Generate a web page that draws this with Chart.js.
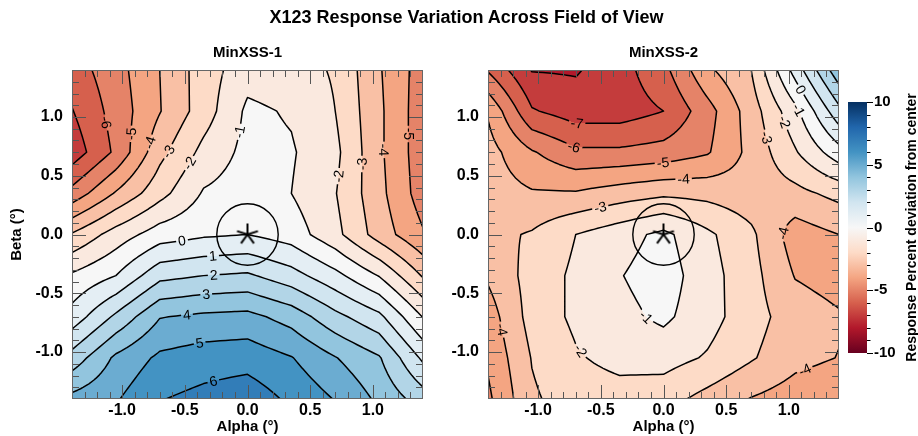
<!DOCTYPE html>
<html>
<head>
<meta charset="utf-8">
<title>X123 Response Variation Across Field of View</title>
<script src="https://cdn.jsdelivr.net/npm/chart.js@4.4.1/dist/chart.umd.min.js"></script>
<style>
  html, body { margin: 0; padding: 0; background: #fff; }
  body { position: relative; width: 918px; height: 436px; overflow: hidden; font-family: "Liberation Sans", Arial, Helvetica, sans-serif; }
  canvas { position: absolute; top: 0; }
  #titulo { position: absolute; left: 0; top: 7px; width: 933px; line-height: 20px; text-align: center; font-size: 18px; font-weight: bold; color: #000; }
</style>
</head>
<body>
<canvas id="panel1" width="440" height="436" style="left:0"></canvas>
<canvas id="panel2" width="405" height="436" style="left:440px"></canvas>
<canvas id="colorbar" width="73" height="436" style="left:845px"></canvas>
<div id="titulo">X123 Response Variation Across Field of View</div>
<script>
const FONT = '"Liberation Sans", Arial, Helvetica, sans-serif';
Chart.defaults.font.family = FONT;
Chart.defaults.color = '#000';

const alphaGrid = [-1.4, -1.05, -0.7, -0.35, 0, 0.35, 0.7, 1.05, 1.4];
const betaGrid = [1.4, 1.05, 0.7, 0.35, 0, -0.35, -0.7, -1.05, -1.4];

// response % deviation, rows = beta (top to bottom), cols = alpha
const minxss1 = [
  [-6.5, -5.4, -4.0, -2.5, -1.4, -1.6, -2.1, -3.9, -5.5],
  [-7.05, -5.6, -4.05, -2.5, -0.8, -1.1, -2.0, -3.8, -5.6],
  [-7.6, -5.8, -3.3, -1.7, -0.7, -0.9, -1.75, -3.8, -5.6],
  [-5.65, -3.9, -2.35, -0.9, -0.5, -1.0, -1.95, -3.7, -5.5],
  [-2.9, -1.55, -0.5, -0.15, 0.0, -0.47, -1.7, -3.45, -4.9],
  [-0.85, 0.0, 1.7, 2.0, 2.15, 1.4, 0.3, -1.05, -3.1],
  [0.4, 2.2, 3.95, 4.2, 4.3, 3.6, 2.3, 1.25, -1.05],
  [2.4, 4.2, 5.2, 5.5, 5.6, 5.05, 4.05, 3.1, 0.8],
  [4.3, 4.9, 5.95, 6.3, 6.6, 5.8, 4.95, 3.8, 2.5]
];
const minxss2 = [
  [-6.1, -8.05, -8.1, -7.4, -6.3, -4.2, -3.0, 0.4, 3.7],
  [-4.1, -6.9, -7.5, -7.5, -7.0, -5.4, -3.5, -1.3, 1.7],
  [-3.6, -4.9, -5.8, -5.8, -5.6, -5.1, -3.7, -2.1, -0.4],
  [-3.5, -3.9, -3.9, -3.5, -3.2, -3.3, -3.6, -3.3, -2.7],
  [-3.3, -2.9, -2.0, -1.4, -0.75, -1.8, -2.8, -4.5, -4.0],
  [-3.85, -2.6, -1.8, -1.05, -0.5, -1.6, -2.65, -4.05, -4.4],
  [-4.5, -2.6, -1.8, -1.3, -0.8, -1.6, -2.6, -3.5, -3.9],
  [-4.85, -2.95, -2.1, -1.7, -1.6, -2.1, -2.9, -3.7, -4.03],
  [-5.2, -3.15, -2.5, -2.4, -2.6, -3.35, -4.05, -4.5, -4.8]
];

const tickValues = [-1.0, -0.5, 0.0, 0.5, 1.0];
const contourLevels = [-9, -8, -7, -6, -5, -4, -3, -2, -1, 0, 1, 2, 3, 4, 5, 6, 7, 8, 9];
const colorbarTicks = [-10, -5, 0, 5, 10];
const fovRadius = 0.245;

// RdBu, -10 (red) to +10 (blue)
const rdbu = ['#67001f', '#b2182b', '#d6604d', '#f4a582', '#fddbc7', '#f7f7f7',
              '#d1e5f0', '#92c5de', '#4393c3', '#2166ac', '#053061'];
const rdbuRgb = rdbu.map(h => [1, 3, 5].map(k => parseInt(h.substr(k, 2), 16)));

function cmap(v) {
  let t = Math.max(0, Math.min(10, (v + 10) / 2));
  const k = Math.min(9, Math.floor(t)), f = t - k;
  return rdbuRgb[k].map((c, n) => Math.round(c + f * (rdbuRgb[k + 1][n] - c)));
}
const bandCache = {};
function bandColour(v) {
  const top = Math.ceil(v);
  if (!bandCache[top]) bandCache[top] = cmap(top);
  return bandCache[top];
}

function locate(axis, v) {
  const n = axis.length;
  for (let k = 0; k < n - 1; k++) {
    const a = axis[k], b = axis[k + 1];
    if (v >= Math.min(a, b) && v <= Math.max(a, b)) return [k, (v - a) / (b - a)];
  }
  const asc = axis[n - 1] > axis[0];
  if ((asc && v < axis[0]) || (!asc && v > axis[0])) return [0, 0];
  return [n - 2, 1];
}
function bilinear(grid, ia, ib) {
  const [i, u] = ia, [j, w] = ib;
  return grid[j][i] * (1 - u) * (1 - w) + grid[j][i + 1] * u * (1 - w) +
         grid[j + 1][i] * (1 - u) * w + grid[j + 1][i + 1] * u * w;
}

// marching squares, returns polylines of edge keys
function traceLevel(vals, level) {
  const nr = vals.length, nc = vals[0].length;
  const adj = new Map();
  const link = (a, b) => {
    if (!adj.has(a)) adj.set(a, []);
    if (!adj.has(b)) adj.set(b, []);
    adj.get(a).push(b); adj.get(b).push(a);
  };
  for (let j = 0; j < nr - 1; j++) {
    for (let i = 0; i < nc - 1; i++) {
      const tl = vals[j][i], tr = vals[j][i + 1], br = vals[j + 1][i + 1], bl = vals[j + 1][i];
      const A = tl > level, B = tr > level, C = br > level, D = bl > level;
      const T = 'h' + i + ',' + j, R = 'v' + (i + 1) + ',' + j;
      const Bo = 'h' + i + ',' + (j + 1), L = 'v' + i + ',' + j;
      const cross = [];
      if (A !== B) cross.push(T);
      if (B !== C) cross.push(R);
      if (C !== D) cross.push(Bo);
      if (D !== A) cross.push(L);
      if (cross.length === 2) link(cross[0], cross[1]);
      else if (cross.length === 4) {
        const centre = (tl + tr + br + bl) / 4 > level;
        if (A === centre) { link(T, R); link(Bo, L); }
        else { link(L, T); link(R, Bo); }
      }
    }
  }
  const used = new Set(), lines = [];
  const walk = start => {
    const path = [start]; used.add(start);
    let cur = start;
    while (true) {
      const nxt = adj.get(cur).find(e => !used.has(e));
      if (!nxt) break;
      used.add(nxt); path.push(nxt); cur = nxt;
    }
    return path;
  };
  for (const [e, nb] of adj) if (nb.length === 1 && !used.has(e)) lines.push({ keys: walk(e), closed: false });
  for (const e of adj.keys()) if (!used.has(e)) lines.push({ keys: walk(e), closed: true });
  return lines;
}

function makeContourPlugin(grid) {
  return {
    id: 'contourFill',
    beforeDatasetsDraw(chart) {
      const { ctx, chartArea: ca, scales: { x, y } } = chart;

      // filled bands
      const L = Math.round(ca.left), T = Math.round(ca.top);
      const W = Math.round(ca.right) - L, H = Math.round(ca.bottom) - T;
      const cols = [], rows = [];
      for (let p = 0; p < W; p++) cols.push(locate(alphaGrid, x.getValueForPixel(L + p + 0.5)));
      for (let p = 0; p < H; p++) rows.push(locate(betaGrid, y.getValueForPixel(T + p + 0.5)));
      const img = ctx.createImageData(W, H);
      let q = 0;
      for (let r = 0; r < H; r++) {
        for (let c = 0; c < W; c++) {
          const col = bandColour(bilinear(grid, cols[c], rows[r]));
          img.data[q++] = col[0]; img.data[q++] = col[1]; img.data[q++] = col[2]; img.data[q++] = 255;
        }
      }
      ctx.putImageData(img, L, T);

      // finer sampling of the grid for the lines
      const S = 8;
      const na = (alphaGrid.length - 1) * S + 1, nb = (betaGrid.length - 1) * S + 1;
      const pa = [], la = [], pb = [], lb = [];
      for (let i = 0; i < na; i++) {
        const k = Math.min(alphaGrid.length - 2, Math.floor(i / S)), u = (i - k * S) / S;
        la.push([k, u]);
        pa.push(x.getPixelForValue(alphaGrid[k] + u * (alphaGrid[k + 1] - alphaGrid[k])));
      }
      for (let j = 0; j < nb; j++) {
        const k = Math.min(betaGrid.length - 2, Math.floor(j / S)), w = (j - k * S) / S;
        lb.push([k, w]);
        pb.push(y.getPixelForValue(betaGrid[k] + w * (betaGrid[k + 1] - betaGrid[k])));
      }
      const vals = lb.map(b => la.map(a => bilinear(grid, a, b)));

      const lines = [];
      contourLevels.forEach(level => {
        traceLevel(vals, level).forEach(line => {
          const pts = line.keys.map(key => {
            const [i, j] = key.slice(1).split(',').map(Number);
            if (key[0] === 'h') {
              const t = (level - vals[j][i]) / (vals[j][i + 1] - vals[j][i]);
              return [pa[i] + t * (pa[i + 1] - pa[i]), pb[j]];
            }
            const t = (level - vals[j][i]) / (vals[j + 1][i] - vals[j][i]);
            return [pa[i], pb[j] + t * (pb[j + 1] - pb[j])];
          });
          lines.push({ level, pts, closed: line.closed });
        });
      });

      // label positions
      ctx.font = '14px ' + FONT;
      const cx0 = x.getPixelForValue(0), cy0 = y.getPixelForValue(0);
      const avoid = x.getPixelForValue(fovRadius) - cx0 + 6;
      const labels = [];
      const fracs = [0.4, 0.5, 0.32, 0.58, 0.25, 0.66, 0.74, 0.18, 0.82];
      lines.forEach(line => {
        const pts = line.pts, cum = [0];
        for (let k = 1; k < pts.length; k++) cum.push(cum[k - 1] + Math.hypot(pts[k][0] - pts[k - 1][0], pts[k][1] - pts[k - 1][1]));
        const total = cum[cum.length - 1];
        if (total < 70) return;
        const text = String(line.level);
        const tw = ctx.measureText(text).width;
        for (const f of fracs) {
          const target = total * f;
          let s = 0;
          while (s < cum.length - 2 && cum[s + 1] < target) s++;
          const seg = cum[s + 1] - cum[s] || 1, g = (target - cum[s]) / seg;
          const qx = pts[s][0] + g * (pts[s + 1][0] - pts[s][0]);
          const qy = pts[s][1] + g * (pts[s + 1][1] - pts[s][1]);
          if (qx < ca.left + 12 || qx > ca.right - 12 || qy < ca.top + 10 || qy > ca.bottom - 10) continue;
          if (Math.hypot(qx - cx0, qy - cy0) < avoid) continue;
          if (labels.some(o => Math.hypot(o.x - qx, o.y - qy) < 18)) continue;
          const p0 = pts[Math.max(0, s - 3)], p1 = pts[Math.min(pts.length - 1, s + 4)];
          let ang = Math.atan2(p1[1] - p0[1], p1[0] - p0[0]);
          if (ang > Math.PI / 2) ang -= Math.PI;
          if (ang < -Math.PI / 2) ang += Math.PI;
          labels.push({ x: qx, y: qy, ang, text, w: tw });
          break;
        }
      });

      // lines with gaps for the labels
      ctx.save();
      ctx.beginPath();
      ctx.rect(ca.left, ca.top, ca.width, ca.height);
      labels.forEach(lbl => {
        const c = Math.cos(lbl.ang), s = Math.sin(lbl.ang), hw = lbl.w / 2 + 2, hh = 7;
        const cs = [[-hw, -hh], [hw, -hh], [hw, hh], [-hw, hh]].map(([u, v]) => [lbl.x + u * c - v * s, lbl.y + u * s + v * c]);
        ctx.moveTo(cs[0][0], cs[0][1]);
        for (let k = 1; k < 4; k++) ctx.lineTo(cs[k][0], cs[k][1]);
        ctx.closePath();
      });
      ctx.clip('evenodd');
      ctx.strokeStyle = '#000';
      ctx.lineWidth = 1.5;
      ctx.lineJoin = 'round';
      lines.forEach(line => {
        ctx.beginPath();
        line.pts.forEach((p, k) => (k ? ctx.lineTo(p[0], p[1]) : ctx.moveTo(p[0], p[1])));
        if (line.closed) ctx.closePath();
        ctx.stroke();
      });
      ctx.restore();

      ctx.save();
      ctx.fillStyle = '#000';
      ctx.font = '14px ' + FONT;
      ctx.textAlign = 'center';
      ctx.textBaseline = 'middle';
      labels.forEach(lbl => {
        ctx.save();
        ctx.translate(lbl.x, lbl.y);
        ctx.rotate(lbl.ang);
        ctx.fillText(lbl.text, 0, 1);
        ctx.restore();
      });
      ctx.restore();
    }
  };
}

// inward ticks on all four sides + frame
const frameTicks = {
  id: 'frameTicks',
  afterDatasetsDraw(chart) {
    const { ctx, chartArea: ca, scales: { x, y } } = chart;
    ctx.save();
    ctx.strokeStyle = '#555';
    ctx.lineWidth = 1;
    ctx.beginPath();
    for (let k = -13; k <= 13; k++) {
      const v = k / 10, len = k % 5 === 0 ? 14 : 7;
      const xp = Math.round(x.getPixelForValue(v)) + 0.5;
      const yp = Math.round(y.getPixelForValue(v)) + 0.5;
      ctx.moveTo(xp, ca.bottom); ctx.lineTo(xp, ca.bottom - len);
      ctx.moveTo(xp, ca.top); ctx.lineTo(xp, ca.top + len);
      ctx.moveTo(ca.left, yp); ctx.lineTo(ca.left + len, yp);
      ctx.moveTo(ca.right, yp); ctx.lineTo(ca.right - len, yp);
    }
    ctx.stroke();
    ctx.strokeStyle = '#666';
    ctx.strokeRect(ca.left + 0.5, ca.top + 0.5, ca.width - 1, ca.height - 1);
    ctx.restore();
  }
};

// five-armed asterisk for the centre
const starMarker = document.createElement('canvas');
starMarker.width = 26; starMarker.height = 26;
(function () {
  const c = starMarker.getContext('2d');
  c.strokeStyle = '#000'; c.lineWidth = 2;
  c.beginPath();
  for (let k = 0; k < 5; k++) {
    const a = -Math.PI / 2 + k * 2 * Math.PI / 5;
    c.moveTo(13, 13); c.lineTo(13 + 11 * Math.cos(a), 13 + 11 * Math.sin(a));
  }
  c.stroke();
})();

const axisFont = { size: 15, weight: 'bold' };
const tickFont = { size: 16, weight: 'bold' };

function makePanel(id, grid, title, yTitle, yAxisWidth, padRight) {
  return new Chart(document.getElementById(id), {
    type: 'scatter',
    data: {
      datasets: [
        {
          data: [{ x: 0, y: 0 }],
          pointStyle: 'circle',
          pointRadius: c => c.chart.scales.x.getPixelForValue(fovRadius) - c.chart.scales.x.getPixelForValue(0),
          pointBackgroundColor: 'rgba(0,0,0,0)',
          pointBorderColor: '#000',
          pointBorderWidth: 1.4
        },
        { data: [{ x: 0, y: 0 }], pointStyle: starMarker, pointRadius: 11 }
      ]
    },
    options: {
      responsive: false,
      animation: false,
      events: [],
      layout: { autoPadding: false, padding: { left: 0, right: padRight, top: 0, bottom: 0 } },
      plugins: {
        legend: { display: false },
        tooltip: { enabled: false },
        title: {
          display: true, text: title, fullSize: false, color: '#000',
          font: { size: 15, weight: 'bold' }, padding: { top: 43.5, bottom: 8.5 }
        }
      },
      scales: {
        x: {
          type: 'linear', min: -1.4, max: 1.4,
          afterBuildTicks: s => { s.ticks = tickValues.map(v => ({ value: v })); },
          ticks: { callback: v => v.toFixed(1), font: tickFont, color: '#000', padding: 2, maxRotation: 0, autoSkip: false },
          grid: { display: false, drawTicks: false },
          border: { display: false },
          title: { display: true, text: 'Alpha (°)', font: axisFont, color: '#000', padding: { top: 0, bottom: 0 } },
          afterFit: s => { s.height = 37; }
        },
        y: {
          type: 'linear', min: -1.4, max: 1.4,
          afterBuildTicks: s => { s.ticks = tickValues.map(v => ({ value: v })); },
          ticks: { callback: v => v.toFixed(1), font: tickFont, color: '#000', padding: 9, autoSkip: false },
          grid: { display: false, drawTicks: false },
          border: { display: false },
          title: { display: !!yTitle, text: yTitle || '', font: axisFont, color: '#000', padding: { top: 8, bottom: 0 } },
          afterFit: s => { s.width = yAxisWidth; }
        }
      }
    },
    plugins: [makeContourPlugin(grid), frameTicks]
  });
}

makePanel('panel1', minxss1, 'MinXSS-1', 'Beta (°)', 72, 17);
makePanel('panel2', minxss2, 'MinXSS-2', null, 48, 6);

// colour bar
const colorbarFill = {
  id: 'colorbarFill',
  beforeDatasetsDraw(chart) {
    const { ctx, chartArea: ca, scales: { y } } = chart;
    ctx.save();
    const g = ctx.createLinearGradient(0, y.getPixelForValue(-10), 0, y.getPixelForValue(10));
    rdbu.forEach((c, k) => g.addColorStop(k / (rdbu.length - 1), c));
    ctx.fillStyle = g;
    ctx.fillRect(ca.left, ca.top, ca.width, ca.height);
    ctx.strokeStyle = '#000';
    ctx.lineWidth = 1;
    ctx.beginPath();
    for (let v = -10; v <= 10; v++) {
      const yp = Math.round(y.getPixelForValue(v)) + 0.5, len = v % 5 === 0 ? 6 : 3.5;
      ctx.moveTo(ca.right, yp); ctx.lineTo(ca.right + len, yp);
    }
    ctx.stroke();
    ctx.translate(67, (ca.top + ca.bottom) / 2);
    ctx.rotate(-Math.PI / 2);
    ctx.fillStyle = '#000';
    ctx.font = 'bold 14px ' + FONT;
    ctx.textAlign = 'center';
    ctx.textBaseline = 'middle';
    ctx.fillText('Response Percent deviation from center', 0, 0);
    ctx.restore();
  }
};

new Chart(document.getElementById('colorbar'), {
  type: 'scatter',
  data: { datasets: [] },
  options: {
    responsive: false,
    animation: false,
    events: [],
    layout: { autoPadding: false, padding: { left: 3, right: 0, top: 102, bottom: 83 } },
    plugins: { legend: { display: false }, tooltip: { enabled: false } },
    scales: {
      x: { display: false, min: 0, max: 1 },
      y: {
        position: 'right', min: -10, max: 10,
        afterBuildTicks: s => { s.ticks = colorbarTicks.map(v => ({ value: v })); },
        ticks: { font: axisFont, color: '#000', padding: 7 },
        grid: { display: false, drawTicks: false },
        border: { display: false },
        afterFit: s => { s.width = 51; }
      }
    }
  },
  plugins: [colorbarFill]
});
</script>
</body>
</html>
